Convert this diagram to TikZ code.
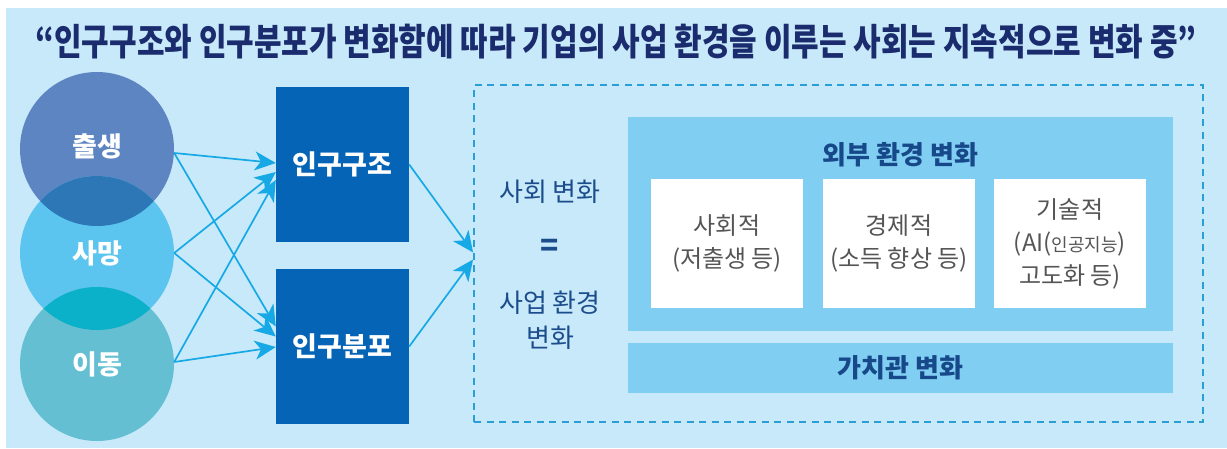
\documentclass[tikz,border=0pt]{standalone}
\usepackage{fontspec}
\setmainfont{Noto Sans CJK KR}
\newfontfamily\titlefont{Noto Sans CJK KR}[FakeStretch=0.81]
\usetikzlibrary{arrows.meta,calc}
\definecolor{bgc}{HTML}{C8E9F9}
\definecolor{titlec}{HTML}{1B2C6E}
\definecolor{cA}{HTML}{5C85C2}
\definecolor{cB}{HTML}{5CC5EF}
\definecolor{cC}{HTML}{64BFD3}
\definecolor{oAB}{HTML}{2D77B7}
\definecolor{oBC}{HTML}{0BB0C9}
\definecolor{boxc}{HTML}{0564B6}
\definecolor{arrc}{HTML}{17A9E5}
\definecolor{dashc}{HTML}{2A9FD6}
\definecolor{leftc}{HTML}{1B4D8C}
\definecolor{panelc}{HTML}{80CEF1}
\definecolor{ptc}{HTML}{17488A}
\definecolor{graytc}{HTML}{555555}
\begin{document}
\begin{tikzpicture}[x=1pt,y=-1pt,
  circ/.style={circle,inner sep=0pt,minimum size=154pt},
  clabel/.style={text=white,font=\fontsize{27}{30}\selectfont\bfseries},
  bluebox/.style={fill=boxc,inner sep=0pt,minimum width=133pt,minimum height=155pt,text=white,font=\fontsize{27}{30}\selectfont\bfseries},
  arr/.style={draw=arrc,line width=1.7pt,-{Stealth[length=21pt,width=19pt,inset=6pt]}},
  dashbox/.style={draw=dashc,line width=1.8pt,dash pattern=on 7pt off 5.5pt,inner sep=0pt,minimum width=729pt,minimum height=337pt},
  lefttext/.style={text=leftc,font=\fontsize{26}{35}\selectfont,align=center},
  panel/.style={fill=panelc,inner sep=0pt,minimum width=545pt},
  ptext/.style={text=ptc,font=\fontsize{26}{30}\selectfont\bfseries},
  wbox/.style={fill=white,inner sep=0pt,minimum width=152pt,minimum height=129pt,text=graytc,font=\fontsize{24}{33}\selectfont,align=center}
]
\useasboundingbox (0,0) rectangle (1227,448);
\fill[white] (0,0) rectangle (1227,448);
\fill[bgc] (6,8) rectangle (1227,448);
\node[text=titlec,font=\titlefont\fontsize{37}{40}\selectfont\bfseries] (title) at (616,42) {“인구구조와 인구분포가 변화함에 따라 기업의 사업 환경을 이루는 사회는 지속적으로 변화 중”};
% circles
\node[circ,fill=cA] (c1) at (97,149) {};
\node[circ,fill=cB] (c2) at (97,253) {};
\node[circ,fill=cC] (c3) at (97,364) {};
\begin{scope}
  \clip (c1.center) circle[radius=77pt];
  \fill[oAB] (c2.center) circle[radius=77pt];
\end{scope}
\begin{scope}
  \clip (c2.center) circle[radius=77pt];
  \fill[oBC] (c3.center) circle[radius=77pt];
\end{scope}
\node[clabel] (l1) at ($(c1.center)+(0,-3)$) {출생};
\node[clabel] (l2) at (c2.center) {사망};
\node[clabel] (l3) at (c3.center) {이동};
% blue boxes
\node[bluebox] (b1) at (342.5,164.5) {인구구조};
\node[bluebox] (b2) at (342.5,346.5) {인구분포};
% dashed box and panels
\node[dashbox] (d) at (838.5,253.5) {};
\node[panel,minimum height=214pt] (p) at (900.5,224) {};
\node[ptext] (pt) at (900.5,155) {외부 환경 변화};
\node[wbox] (w1) at (727,243.5) {사회적\\(저출생 등)};
\node[wbox] (w2) at (899,243.5) {경제적\\(소득 향상 등)};
\node[wbox] (w3) at (1070,243.5) {기술적\\(AI({\fontsize{18}{20}\selectfont 인공지능})\\고도화 등)};
\node[panel,minimum height=50pt] (vp) at (900.5,368) {};
\node[ptext] (vt) at (vp.center) {가치관 변화};
% left text
\node[lefttext] (s1) at (550,192) {사회 변화};
\node[lefttext,font=\fontsize{30}{35}\selectfont\bfseries] (s2) at (550,248) {=};
\node[lefttext] (s3) at (550,320) {사업 환경\\변화};
% arrows
\draw[arr] ($(c1.east)+(0,4)$) -- ($(b1.west)+(0,-1.5)$);
\draw[arr] ($(c2.east)+(0,0)$) -- ($(b1.west)+(0,7.5)$);
\draw[arr] ($(c3.east)+(0,-2)$) -- ($(b1.west)+(0,15.5)$);
\draw[arr] ($(c1.east)+(0,4)$) -- ($(b2.west)+(0,-20)$);
\draw[arr] ($(c2.east)+(0,0)$) -- ($(b2.west)+(0,-10)$);
\draw[arr] ($(c3.east)+(0,-2)$) -- ($(b2.west)+(0,0.5)$);
\draw[arr] (b1.east) -- ($(d.west)+(0,-1)$);
\draw[arr] (b2.east) -- ($(d.west)+(0,6)$);
\end{tikzpicture}
\end{document}
